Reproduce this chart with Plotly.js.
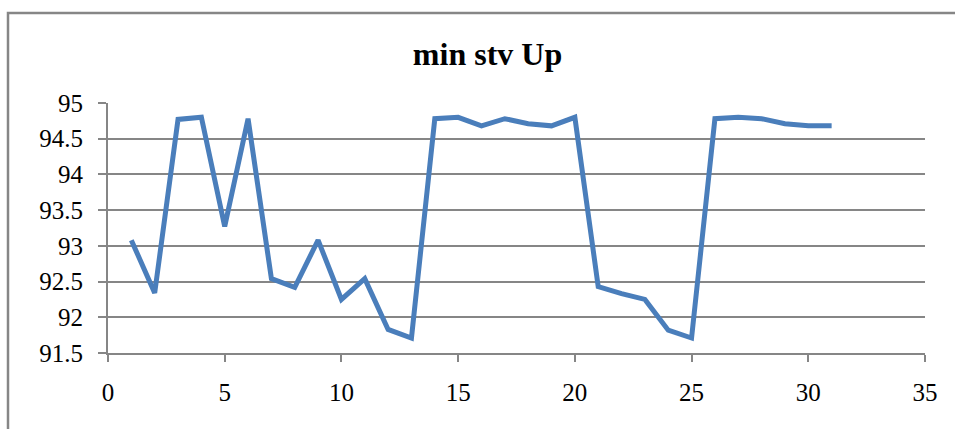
<!DOCTYPE html>
<html>
<head>
<meta charset="utf-8">
<script src="https://cdn.plot.ly/plotly-3.0.1.min.js"></script>
<style>html,body{margin:0;padding:0;background:#fff;}#chart{width:955px;height:429px;}</style>
</head>
<body>
<div id="chart"></div>
<script>
const xValues = [1,2,3,4,5,6,7,8,9,10,11,12,13,14,15,16,17,18,19,20,21,22,23,24,25,26,27,28,29,30,31];
const minStvUp = [93.08,92.34,94.77,94.80,93.27,94.78,92.54,92.42,93.08,92.25,92.54,91.83,91.71,94.78,94.80,94.68,94.78,94.71,94.68,94.80,92.43,92.33,92.25,91.82,91.71,94.78,94.80,94.78,94.71,94.68,94.68];
const titleText = 'min stv Up';
const gray = '#868686';
const font = 'Liberation Serif, Times New Roman, serif';

const trace = {
  x: xValues, y: minStvUp, type: 'scatter', mode: 'lines',
  line: {color: '#4A7EBB', width: 5}, hoverinfo: 'skip'
};
const layout = {
  width: 955, height: 429,
  margin: {l: 108, r: 30, t: 103, b: 76},
  paper_bgcolor: '#fff', plot_bgcolor: '#fff',
  showlegend: false,
  title: {text: '<b>' + titleText + '</b>', font: {family: font, size: 32, color: '#000'},
          xref: 'container', x: 0.5105, xanchor: 'center', yref: 'container', y: 0.875, yanchor: 'middle'},
  xaxis: {range: [0, 35], dtick: 5, tick0: 0, showgrid: false, zeroline: false,
          showline: true, linecolor: gray, linewidth: 2, ticks: 'outside', ticklen: 7, tickwidth: 2, tickcolor: gray,
          tickfont: {family: font, size: 25, color: '#000'}, ticklabelstandoff: 9, fixedrange: true},
  yaxis: {range: [91.5, 95], dtick: 0.5, tick0: 91.5, showgrid: true, gridcolor: gray, gridwidth: 2, zeroline: false,
          showline: true, linecolor: gray, linewidth: 2, ticks: 'outside', ticklen: 8, tickwidth: 2, tickcolor: gray,
          tickfont: {family: font, size: 25, color: '#000'}, ticklabelstandoff: 10, fixedrange: true},
  shapes: [{type: 'rect', xref: 'paper', yref: 'paper',
            x0: (8 - 108) / 817, x1: (965 - 108) / 817, y0: (353 - 440) / 250, y1: (353 - 13) / 250,
            line: {color: gray, width: 2.5}, fillcolor: 'rgba(0,0,0,0)', layer: 'below'}]
};
Plotly.newPlot('chart', [trace], layout, {displayModeBar: false, staticPlot: true});
</script>
</body>
</html>
